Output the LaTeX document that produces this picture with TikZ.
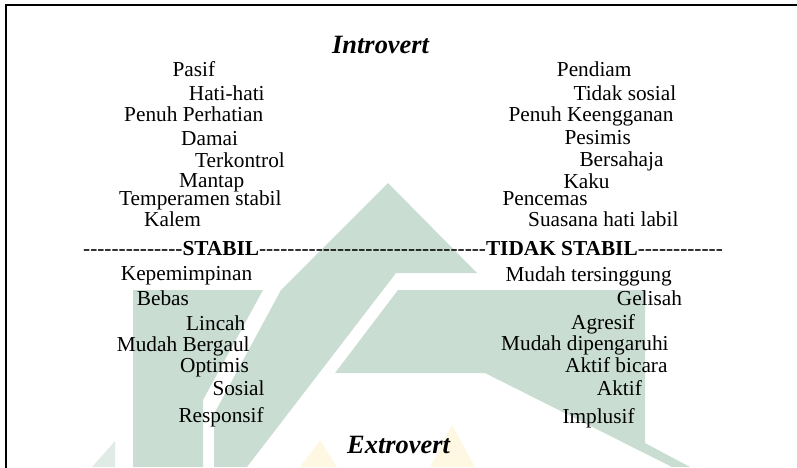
\documentclass[tikz,border=0pt]{standalone}
\usepackage{fontspec}
\setmainfont{Liberation Serif}
\definecolor{wm}{RGB}{201,221,211}
\definecolor{wml}{RGB}{225,235,230}
\definecolor{wmy}{RGB}{254,247,226}
\newcommand\hyrep[1]{\ifnum#1>0 -\kern0pt\expandafter\hyrep\expandafter{\the\numexpr#1-1\relax}\fi}
\begin{document}
\begin{tikzpicture}[x=1pt,y=-1pt,
  txt/.style={anchor=base west,inner sep=0pt,font=\fontsize{21.3}{25}\selectfont},
  ttl/.style={anchor=base west,inner sep=0pt,font=\fontsize{26.4}{30}\selectfont\bfseries\itshape},
  frame/.style={line width=2pt,line cap=rect}]
\useasboundingbox (0,0) rectangle (797,467);
% watermark
\fill[wm] (388,183) -- (477,273) -- (396,273) -- (247,467) -- (214,467) -- (214,414) -- (281,290) -- cycle;
\fill[wm] (133,290) -- (263,290) -- (203,400) -- (203,467) -- (133,467) -- cycle;
\fill[wm] (398,290) -- (645,290) -- (645,443) -- (690,467) -- (672,467) -- (485,373) -- (335,373) -- cycle;
\fill[wml] (92,467) -- (115,441) -- (115,467) -- cycle;
\fill[wmy] (300,467) -- (320,440) -- (337,467) -- cycle;
\fill[wmy] (430,467) -- (452,425) -- (475,467) -- cycle;
% frame
\coordinate (fb) at (6,467);
\coordinate (fc) at (6,5);
\coordinate (fr) at (797,5);
\draw[frame] (fb) -- (fc) -- (fr);
% titles
\node[ttl] (intro) at (332,53) {Introvert};
\node[ttl] (extro) at (347,453) {Extrovert};
% left upper
\node[txt] (l1) at (172.3,76) {Pasif};
\node[txt] (l2) at (188.7,100) {Hati-hati};
\node[txt] (l3) at (124,121.5) {Penuh Perhatian};
\node[txt] (l4) at (181,145) {Damai};
\node[txt] (l5) at (195,167.5) {Terkontrol};
\node[txt] (l6) at (179,187.7) {Mantap};
\node[txt] (l7) at (119,205) {Temperamen stabil};
\node[txt] (l8) at (144,226.7) {Kalem};
% right upper
\node[txt] (r1) at (556.7,76) {Pendiam};
\node[txt] (r2) at (573.3,100) {Tidak sosial};
\node[txt] (r3) at (508.3,121.2) {Penuh Keengganan};
\node[txt] (r4) at (564.3,144.5) {Pesimis};
\node[txt] (r5) at (579.3,166.7) {Bersahaja};
\node[txt] (r6) at (563.3,188.3) {Kaku};
\node[txt] (r7) at (502.3,205) {Pencemas};
\node[txt] (r8) at (528,226.7) {Suasana hati labil};
% divider
\node[txt] (div) at (83,255) {\hyrep{14}\textbf{STABIL}\hyrep{32}\textbf{TIDAK STABIL}\hyrep{12}};
% left lower
\node[txt] (b1) at (120.7,280.7) {Kepemimpinan};
\node[txt] (b2) at (136.7,305) {Bebas};
\node[txt] (b3) at (186,330) {Lincah};
\node[txt] (b4) at (116.7,351.5) {Mudah Bergaul};
\node[txt] (b5) at (180,372) {Optimis};
\node[txt] (b6) at (212.3,395.7) {Sosial};
\node[txt] (b7) at (178.3,422.8) {Responsif};
% right lower
\node[txt] (c1) at (505.3,281) {Mudah tersinggung};
\node[txt] (c2) at (616.7,305) {Gelisah};
\node[txt] (c3) at (571,329.5) {Agresif};
\node[txt] (c4) at (501,350.7) {Mudah dipengaruhi};
\node[txt] (c5) at (565,372.7) {Aktif bicara};
\node[txt] (c6) at (596.7,395.7) {Aktif};
\node[txt] (c7) at (562.3,423.3) {Implusif};
\end{tikzpicture}
\end{document}
